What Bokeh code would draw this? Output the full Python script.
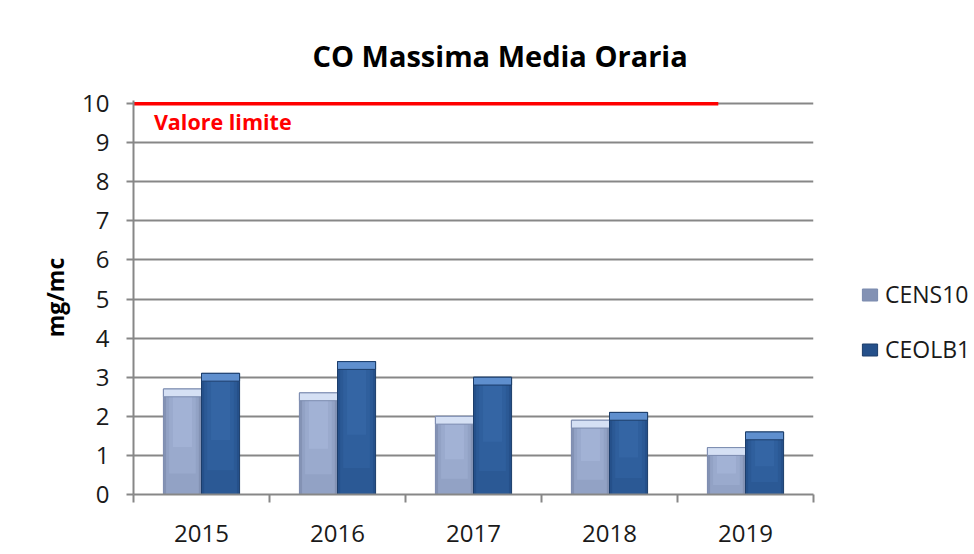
from bokeh.plotting import figure
from bokeh.models import (Range1d, FixedTicker, Legend, LegendItem, Label, Title)
from bokeh.embed import file_html
from bokeh.resources import INLINE

# ---- data ----
years = ["2015", "2016", "2017", "2018", "2019"]
cens10 = [2.7, 2.6, 2.0, 1.9, 1.2]
ceolb1 = [3.1, 3.4, 3.0, 2.1, 1.6]
limit_value = 10
limit_label = "Valore limite"
limit_end = 4.3
series_names = ["CENS10", "CEOLB1"]
y_ticks = list(range(0, 11))

FONT = "Open Sans"
GRID = "#878787"

p = figure(frame_width=680, frame_height=394, output_backend="svg",
           toolbar_location=None, x_range=Range1d(0, len(years)),
           y_range=Range1d(0, 10.08),
           min_border_left=133, min_border_top=100, min_border_bottom=56,
           min_border_right=156, background_fill_color="white",
           border_fill_color="white")
p.outline_line_color = None

# title
p.title = Title(text="CO Massima Media Oraria", align="left", offset=179,
                text_font=FONT, text_font_size="29px", text_font_style="bold",
                text_color="#000000", standoff=52)

# grid
p.xgrid.visible = False
p.ygrid.ticker = FixedTicker(ticks=y_ticks)
p.ygrid.grid_line_color = GRID
p.ygrid.grid_line_width = 2

# y axis
ya = p.yaxis[0]
ya.ticker = FixedTicker(ticks=y_ticks)
ya.axis_line_color = GRID
ya.axis_line_width = 2
ya.major_tick_line_color = GRID
ya.major_tick_line_width = 2
ya.major_tick_out = 7
ya.major_tick_in = 0
ya.minor_tick_line_color = None
ya.major_label_text_font = FONT
ya.major_label_text_font_size = "24px"
ya.major_label_text_color = "#1a1a1a"
ya.major_label_standoff = 17
ya.axis_label = "mg/mc"
ya.axis_label_text_font = FONT
ya.axis_label_text_font_size = "23px"
ya.axis_label_text_font_style = "bold"
ya.axis_label_text_color = "#000000"
ya.axis_label_standoff = 8

# x axis
centers = [i + 0.5 for i in range(len(years))]
bounds = list(range(len(years) + 1))
xa = p.xaxis[0]
xa.ticker = FixedTicker(ticks=centers, minor_ticks=bounds)
xa.major_label_overrides = {c: y for c, y in zip(centers, years)}
xa.axis_line_color = GRID
xa.axis_line_width = 2
xa.major_tick_line_color = None
xa.major_tick_out = 0
xa.major_tick_in = 0
xa.minor_tick_line_color = GRID
xa.minor_tick_line_width = 2
xa.minor_tick_out = 8
xa.minor_tick_in = 0
xa.major_label_text_font = FONT
xa.major_label_text_font_size = "24px"
xa.major_label_text_color = "#1a1a1a"
xa.major_label_standoff = 22

# bars (layered to suggest the bevelled 3-D look)
bw = 0.28
x1 = [c - bw / 2 for c in centers]
x2 = [c + bw / 2 for c in centers]
bev = 0.2


def bar_set(xs, vals, edge, body, mid, inner, top, outline):
    r = p.vbar(x=xs, top=vals, bottom=0, width=bw, fill_color=edge,
               line_color=outline, line_width=1)
    p.vbar(x=xs, top=vals, bottom=0, width=bw * 0.86, fill_color=body,
           line_color=None)
    p.vbar(x=xs, top=vals, bottom=[v * 0.2 for v in vals], width=bw * 0.7,
           fill_color=mid, line_color=None)
    p.vbar(x=xs, top=vals, bottom=[v * 0.45 for v in vals], width=bw * 0.5,
           fill_color=inner, line_color=None)
    p.vbar(x=xs, top=vals, bottom=[v - bev for v in vals], width=bw,
           fill_color=top, line_color=outline, line_width=1)
    return r


r1 = bar_set(x1, cens10, "#8392b4", "#92a2c5", "#9aaacd", "#a2b2d5",
             "#d5e0f4", "#7a8aae")
r2 = bar_set(x2, ceolb1, "#25508a", "#2b5995", "#2f5f9d", "#3465a4",
             "#5f8fce", "#1c3d6a")

# limit line
p.segment(x0=[0], y0=[limit_value], x1=[limit_end], y1=[limit_value],
          line_color="#ff0000", line_width=3.5)
p.add_layout(Label(x=0.15, y=limit_value - 0.46, text=limit_label,
                   text_font=FONT, text_font_size="21.5px",
                   text_font_style="bold", text_color="#ff0000",
                   text_baseline="middle", text_align="left"))

# legend
legend = Legend(items=[LegendItem(label=series_names[0], renderers=[r1]),
                       LegendItem(label=series_names[1], renderers=[r2])],
                location=(47, 129), orientation="vertical",
                label_text_font=FONT, label_text_font_size="23px",
                label_text_color="#1a1a1a", glyph_width=19, glyph_height=15,
                label_height=25, spacing=23, padding=0, margin=0,
                border_line_color=None, background_fill_alpha=0,
                label_standoff=6)
p.add_layout(legend, "right")

open("out.html", "w").write(file_html(p, INLINE))
